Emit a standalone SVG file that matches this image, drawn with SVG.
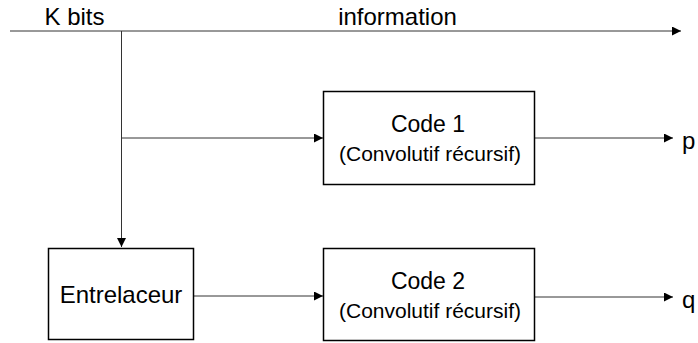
<svg xmlns="http://www.w3.org/2000/svg" width="698" height="343" viewBox="0 0 698 343">
<style>
text{font-family:"Liberation Sans",Arial,sans-serif;fill:#000}
.lbl{font-size:24px}
.t1{font-size:23px;text-anchor:middle}
.t2{font-size:21px;text-anchor:middle}
.box{fill:#fff;stroke:#000;stroke-width:1.5}
.ln{stroke:#333;stroke-width:1;fill:none}
</style>
<defs>
<marker id="ah" viewBox="0 0 10 10" refX="10" refY="5" markerWidth="9" markerHeight="9" markerUnits="userSpaceOnUse" orient="auto">
<path d="M0,0 L10,5 L0,10 Z" fill="#000"/>
</marker>
</defs>
<g id="connectors">
<path class="ln" d="M10,31 H681" marker-end="url(#ah)"/>
<path class="ln" d="M121.5,31 V247" marker-end="url(#ah)"/>
<path class="ln" d="M121.5,138 H323" marker-end="url(#ah)"/>
<path class="ln" d="M194,296 H323" marker-end="url(#ah)"/>
<path class="ln" d="M535,138 H673" marker-end="url(#ah)"/>
<path class="ln" d="M535,297 H673" marker-end="url(#ah)"/>
</g>
<g id="labels">
<text class="lbl" x="74.5" y="25" text-anchor="middle">K bits</text>
<text class="lbl" x="397.5" y="25" text-anchor="middle">information</text>
<text class="lbl" x="682" y="149">p</text>
<text class="lbl" x="682" y="308">q</text>
</g>
<g id="code1">
<rect class="box" x="323.5" y="91.5" width="211" height="93"/>
<text class="t1" x="428" y="132">Code 1</text>
<text class="t2" x="430" y="161">(Convolutif récursif)</text>
</g>
<g id="entrelaceur">
<rect class="box" x="48.5" y="248.5" width="145" height="91"/>
<text class="lbl" x="121" y="303" text-anchor="middle">Entrelaceur</text>
</g>
<g id="code2">
<rect class="box" x="323.5" y="248.5" width="211" height="92"/>
<text class="t1" x="428" y="289">Code 2</text>
<text class="t2" x="430" y="318">(Convolutif récursif)</text>
</g>
</svg>
